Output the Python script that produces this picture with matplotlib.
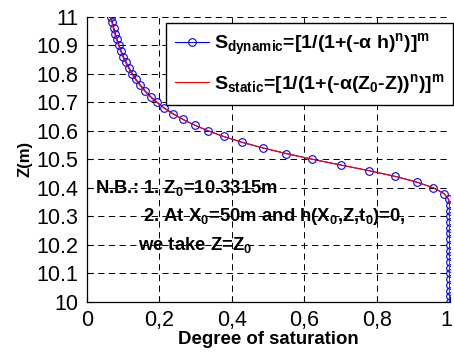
import numpy as np
import matplotlib
matplotlib.use("Agg")
import matplotlib.pyplot as plt
import matplotlib.transforms as mtransforms

plt.rcParams['font.family'] = ['Liberation Sans', 'DejaVu Sans']
plt.rcParams['mathtext.fontset'] = 'custom'
plt.rcParams['mathtext.rm'] = 'Liberation Sans:bold'
plt.rcParams['mathtext.it'] = 'Liberation Sans:bold'
plt.rcParams['mathtext.bf'] = 'Liberation Sans:bold'
plt.rcParams['lines.scale_dashes'] = False

# depth Z (m), every 0.02 m
z = [10.00, 10.02, 10.04, 10.06, 10.08, 10.10, 10.12, 10.14, 10.16, 10.18,
     10.20, 10.22, 10.24, 10.26, 10.28, 10.30, 10.32, 10.34, 10.36, 10.38,
     10.40, 10.42, 10.44, 10.46, 10.48, 10.50, 10.52, 10.54, 10.56, 10.58,
     10.60, 10.62, 10.64, 10.66, 10.68, 10.70, 10.72, 10.74, 10.76, 10.78,
     10.80, 10.82, 10.84, 10.86, 10.88, 10.90, 10.92, 10.94, 10.96, 10.98,
     11.00]

s_dynamic = [1.0] * 17 + [
    1.000, 0.997, 0.984, 0.955, 0.910, 0.850, 0.778, 0.700, 0.622, 0.550,
    0.485, 0.427, 0.377, 0.334, 0.297, 0.265, 0.238, 0.214, 0.194, 0.176,
    0.161, 0.148, 0.136, 0.126, 0.117, 0.109, 0.101, 0.095, 0.089, 0.084,
    0.079, 0.075, 0.071, 0.067]

s_static = [1.0] * 17 + [
    1.000, 0.997, 0.984, 0.955, 0.910, 0.850, 0.778, 0.700, 0.622, 0.550,
    0.485, 0.427, 0.377, 0.334, 0.297, 0.264, 0.236, 0.212, 0.192, 0.174,
    0.159, 0.146, 0.134, 0.124, 0.115, 0.107, 0.099, 0.093, 0.087, 0.082,
    0.077, 0.073, 0.069, 0.065]

xticks = [0, 0.2, 0.4, 0.6, 0.8, 1.0]
xticklabels = ['0', '0,2', '0,4', '0,6', '0,8', '1']
yticks = [10, 10.1, 10.2, 10.3, 10.4, 10.5, 10.6, 10.7, 10.8, 10.9, 11]
yticklabels = ['10', '10.1', '10.2', '10.3', '10.4', '10.5', '10.6', '10.7', '10.8', '10.9', '11']

fig = plt.figure(figsize=(4.54, 3.54), dpi=100)
ax = fig.add_axes([0.191, 0.147, 0.7995, 0.806])

ax.plot(s_dynamic, z, '-o', color='blue', lw=0.8, ms=5.5, mfc='none', mew=0.8,
        label=r'$S_{dynamic}$=[1/(1+(-$\alpha$ h)$^{n}$)]$^{m}$')
ax.plot(s_static, z, '-', color='red', lw=0.8,
        label=r'$S_{static}$=[1/(1+(-$\alpha$(Z$_{0}$-Z))$^{n}$)]$^{m}$')

ax.set_xlim(0, 1)
ax.set_ylim(10, 11)
ax.set_xticks(xticks)
ax.set_xticklabels(xticklabels)
ax.set_yticks(yticks)
ax.set_yticklabels(yticklabels)
ax.tick_params(direction='in', length=4, width=0.8, labelsize=15.5, pad=6)
ax.grid(True, color='k', ls=(0, (4.5, 3.2)), lw=0.7)
for side in ['top', 'right']:
    ax.spines[side].set_visible(False)
for side in ['left', 'bottom']:
    ax.spines[side].set_linewidth(0.9)

# keep the "1" label inside the figure
last = ax.get_xticklabels()[-1]
last.set_transform(last.get_transform() +
                   mtransforms.ScaledTranslation(-3 / 100, 0, fig.dpi_scale_trans))

ax.set_xlabel('Degree of saturation', fontsize=13.4, fontweight='bold', labelpad=0)
ax.set_ylabel('Z(m)', fontsize=12, fontweight='bold', labelpad=3)

leg = ax.legend(loc='upper left', bbox_to_anchor=(0.2185, 0.979), borderaxespad=0,
                frameon=True, fancybox=False, framealpha=1,
                edgecolor='k', handlelength=1.75, handletextpad=0.25,
                labelspacing=0.75, borderpad=0.45, prop={'weight': 'bold', 'size': 14})
leg.get_frame().set_linewidth(1.0)

tkw = dict(fontsize=13.3, fontweight='bold', va='center', zorder=1)
ax.text(0.023, 10.4, r'N.B.: 1. Z$_{0}$=10.3315m', **tkw)
ax.text(0.155, 10.3, r'2. At X$_{0}$=50m and h(X$_{0}$,Z,t$_{0}$)=0,', **tkw)
ax.text(0.141, 10.2, r'we take Z=Z$_{0}$', **tkw)

fig.savefig('out.png', dpi=100)
